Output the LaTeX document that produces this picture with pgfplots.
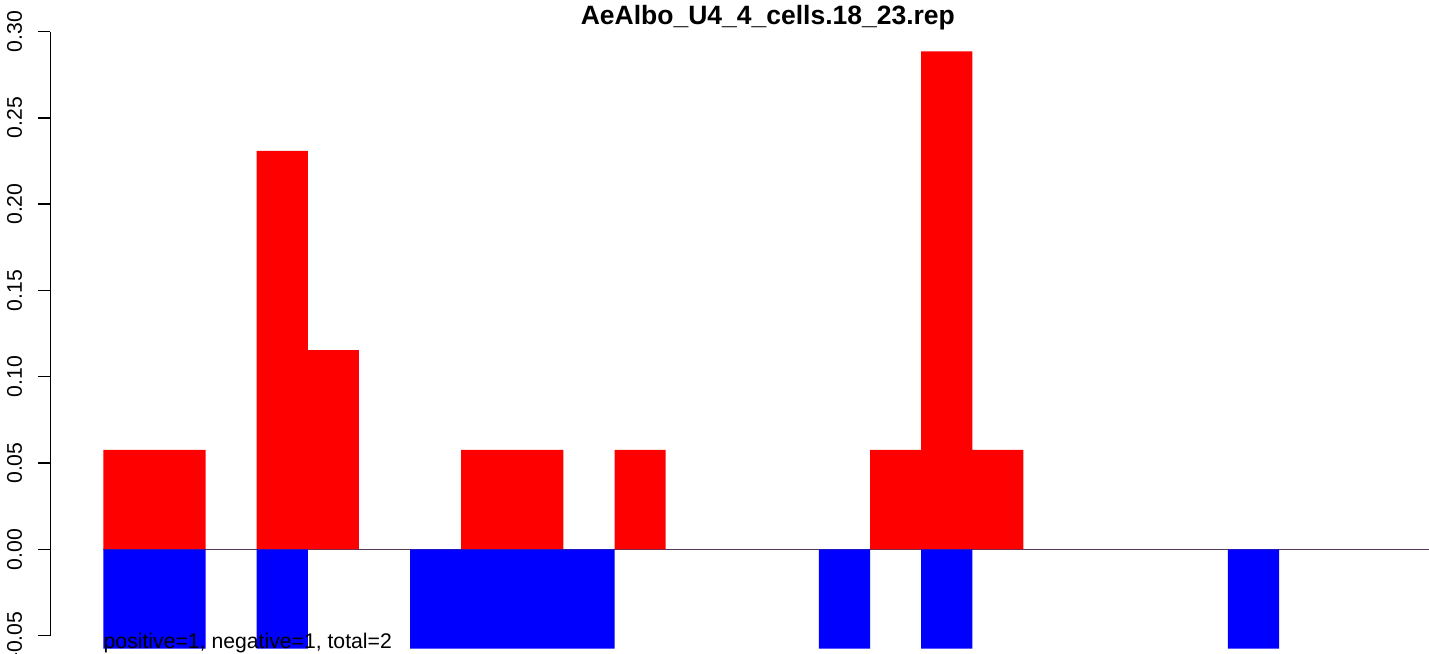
\documentclass[border=0pt]{standalone}
\usepackage{fontspec}
\setmainfont{Liberation Sans}
\usepackage{pgfplots}
\pgfplotsset{compat=1.18}
\definecolor{zline}{RGB}{77,77,77}
\begin{document}
\begin{tikzpicture}
\begin{axis}[
  scale only axis, width=689.25pt, height=302.1pt,
  xmin=-1.0329, xmax=25.933, ymin=-0.05, ymax=0.30,
  clip=false,
  axis lines*=left,
  x axis line style={draw=none},
  xtick=\empty,
  ytick={-0.05,0,0.05,0.10,0.15,0.20,0.25,0.30},
  yticklabels={-0.05,0.00,0.05,0.10,0.15,0.20,0.25,0.30},
  tick align=outside, major tick length=6.25pt,
  y axis line style={line width=0.7pt,black},
  ytick style={line width=0.7pt,black},
  yticklabel style={rotate=90, anchor=base, inner sep=0pt, font=\fontsize{10.6}{12}\selectfont},
  yticklabel shift=8pt,
]
\draw[zline, line width=0.5pt] (axis cs:0,0) -- (axis cs:25.933,0);
\addplot[ybar interval, fill=red, draw=none] coordinates {
(0,0.0577) (1,0.0577) (2,0) (3,0.2308) (4,0.1154) (5,0) (6,0) (7,0.0577) (8,0.0577) (9,0)
(10,0.0577) (11,0) (12,0) (13,0) (14,0) (15,0.0577) (16,0.2885) (17,0.0577) (18,0) (19,0)
(20,0) (21,0) (22,0) (23,0) (24,0) (25,0) (26,0)};
\addplot[ybar interval, fill=blue, draw=none] coordinates {
(0,-0.0575) (1,-0.0575) (2,0) (3,-0.0575) (4,0) (5,0) (6,-0.0575) (7,-0.0575) (8,-0.0575) (9,-0.0575)
(10,0) (11,0) (12,0) (13,0) (14,-0.0575) (15,0) (16,-0.0575) (17,0) (18,0) (19,0)
(20,0) (21,0) (22,-0.0575) (23,0) (24,0) (25,0) (26,0)};
\node[anchor=base, inner sep=0pt, font=\bfseries\fontsize{13.25}{15}\selectfont] at (axis cs:13.0,0.3038) {AeAlbo\_U4\_4\_cells.18\_23.rep};
\node[anchor=base west, inner sep=0pt, font=\fontsize{10.6}{12}\selectfont] at (axis cs:0,-0.0574) {positive=1, negative=1, total=2};
\coordinate (BL) at (axis cs:-2.0207,-0.06008);
\coordinate (TR) at (axis cs:25.933,0.31825);
\end{axis}
\pgfresetboundingbox
\path[use as bounding box] (BL) rectangle (TR);
\end{tikzpicture}
\end{document}
